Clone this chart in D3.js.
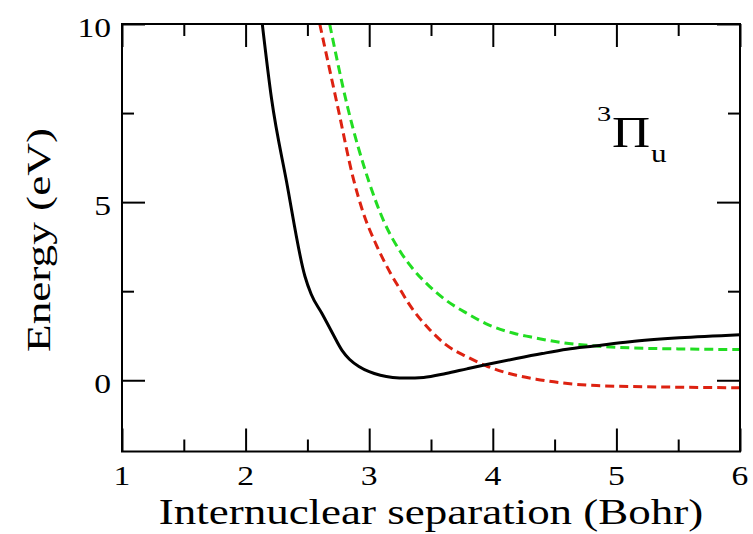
<!DOCTYPE html>
<html>
<head>
<meta charset="utf-8">
<script src="https://cdn.jsdelivr.net/npm/d3@7"></script>
<style>
  html, body { margin: 0; padding: 0; background: #fff; }
  svg { display: block; }
  text { font-family: "Liberation Serif", "Times New Roman", serif; fill: #000; }
</style>
</head>
<body>
<div id="chart"></div>
<script>
// ---- data ----
const blackR = [2.135, 2.21, 2.33, 2.48, 2.53, 2.62, 2.70, 2.78, 2.84, 2.92, 3.00, 3.09, 3.19, 3.30, 3.44, 3.62, 3.79, 3.95, 4.19, 4.40, 4.60, 4.82, 5.11, 5.51, 6.00];
const blackE = [10.0, 7.9, 5.6, 2.92, 2.42, 1.86, 1.34, 0.84, 0.59, 0.38, 0.24, 0.14, 0.08, 0.06, 0.08, 0.19, 0.32, 0.44, 0.61, 0.75, 0.87, 0.96, 1.08, 1.19, 1.28];

const redR = [2.60, 2.75, 2.87, 2.95, 3.06, 3.17, 3.25, 3.33, 3.41, 3.49, 3.62, 3.79, 3.95, 4.19, 4.35, 4.57, 4.84, 5.38, 6.00];
const redE = [10.0, 7.6, 5.68, 4.72, 3.78, 3.02, 2.55, 2.10, 1.73, 1.42, 1.00, 0.66, 0.40, 0.14, 0.03, -0.08, -0.15, -0.19, -0.21];

const greenR = [2.68, 2.83, 3.00, 3.12, 3.25, 3.36, 3.49, 3.62, 3.79, 3.97, 4.19, 4.30, 4.57, 4.84, 5.11, 5.50, 6.00];
const greenE = [10.0, 7.6, 5.55, 4.45, 3.62, 3.10, 2.63, 2.25, 1.88, 1.55, 1.30, 1.22, 1.05, 0.96, 0.91, 0.88, 0.86];

const xMajorTicks = [1, 2, 3, 4, 5, 6];
const xMinorTicks = [1.5, 2.5, 3.5, 4.5, 5.5];
const yMajorTicks = [0, 5, 10];
const yMinorTicks = [2.5, 7.5];

const xTitle = "Internuclear separation (Bohr)";
const yTitle = "Energy (eV)";

// ---- layout ----
const W = 753, H = 534;
const margin = { left: 122, top: 24, right: 13, bottom: 82.5 };
const iw = W - margin.left - margin.right;
const ih = H - margin.top - margin.bottom;

const svg = d3.select("#chart").append("svg").attr("width", W).attr("height", H);
const g = svg.append("g").attr("transform", `translate(${margin.left},${margin.top})`);

const x = d3.scaleLinear().domain([1, 6]).range([0, iw]);
const y = d3.scaleLinear().domain([-2, 10]).range([ih, 0]);

svg.append("defs").append("clipPath").attr("id", "clip")
  .append("rect").attr("x", 0).attr("y", 0).attr("width", iw).attr("height", ih);

// ---- curves ----
const line = d3.line().x(d => x(d[0])).y(d => y(d[1])).curve(d3.curveMonotoneX);
const zip = (a, b) => a.map((v, i) => [v, b[i]]);

const plot = g.append("g").attr("clip-path", "url(#clip)");
plot.append("path").datum(zip(greenR, greenE)).attr("d", line)
  .attr("fill", "none").attr("stroke", "#22dd22").attr("stroke-width", 3).attr("stroke-dasharray", "9,5");
plot.append("path").datum(zip(redR, redE)).attr("d", line)
  .attr("fill", "none").attr("stroke", "#dd2211").attr("stroke-width", 3).attr("stroke-dasharray", "9,5");
plot.append("path").datum(zip(blackR, blackE)).attr("d", line)
  .attr("fill", "none").attr("stroke", "#000").attr("stroke-width", 3);

// ---- axes (ticks inward on all four sides) ----
const majLen = 23, minLen = 12;
function styleAxis(sel) {
  sel.select(".domain").remove();
  sel.selectAll(".tick line").attr("stroke", "#000").attr("stroke-width", 2);
}
g.append("g").attr("transform", `translate(0,${ih})`)
  .call(d3.axisBottom(x).tickValues(xMinorTicks).tickSize(-minLen).tickFormat(""))
  .call(styleAxis);
const xb = g.append("g").attr("transform", `translate(0,${ih})`)
  .call(d3.axisBottom(x).tickValues(xMajorTicks).tickSize(-majLen).tickFormat(d3.format("d")))
  .call(styleAxis);
xb.selectAll(".tick text").remove();
g.append("g")
  .call(d3.axisTop(x).tickValues(xMinorTicks).tickSize(-minLen).tickFormat(""))
  .call(styleAxis);
g.append("g")
  .call(d3.axisTop(x).tickValues(xMajorTicks).tickSize(-majLen).tickFormat(""))
  .call(styleAxis);
g.append("g")
  .call(d3.axisLeft(y).tickValues(yMinorTicks).tickSize(-minLen).tickFormat(""))
  .call(styleAxis);
const yl = g.append("g")
  .call(d3.axisLeft(y).tickValues(yMajorTicks).tickSize(-majLen).tickFormat(d3.format("d")))
  .call(styleAxis);
yl.selectAll(".tick text").remove();
g.append("g").attr("transform", `translate(${iw},0)`)
  .call(d3.axisRight(y).tickValues(yMinorTicks).tickSize(-minLen).tickFormat(""))
  .call(styleAxis);
g.append("g").attr("transform", `translate(${iw},0)`)
  .call(d3.axisRight(y).tickValues(yMajorTicks).tickSize(-majLen).tickFormat(""))
  .call(styleAxis);

g.append("rect").attr("x", 0).attr("y", 0).attr("width", iw).attr("height", ih)
  .attr("fill", "none").attr("stroke", "#000").attr("stroke-width", 2);

// ---- stretched text helper ----
function stext(parent, px, py, str, size, sx, anchor, rot) {
  const gg = parent.append("g")
    .attr("transform", `translate(${px},${py})` + (rot ? ` rotate(${rot})` : "") + ` scale(${sx},1)`);
  gg.append("text").attr("x", 0).attr("y", 0)
    .attr("text-anchor", anchor).attr("font-size", size).text(str);
  return gg;
}

xMajorTicks.forEach(v => stext(g, x(v), ih + 33.5, String(v), 28, 1.2, "middle"));
yMajorTicks.forEach(v => stext(g, -11, y(v) + 12.5, String(v), 28, 1.2, "end"));

stext(svg, margin.left + iw / 2, 524, xTitle, 36, 1.25, "middle");
stext(svg, 50, 240, yTitle, 34, 1.33, "middle", -90);

// annotation  ³Π_u
stext(svg, 597, 121, "3", 21, 1.35, "start");
stext(svg, 612, 147, "\u03A0", 44, 1.2, "start");
stext(svg, 651, 162, "u", 26, 1.2, "start");
</script>
</body>
</html>
